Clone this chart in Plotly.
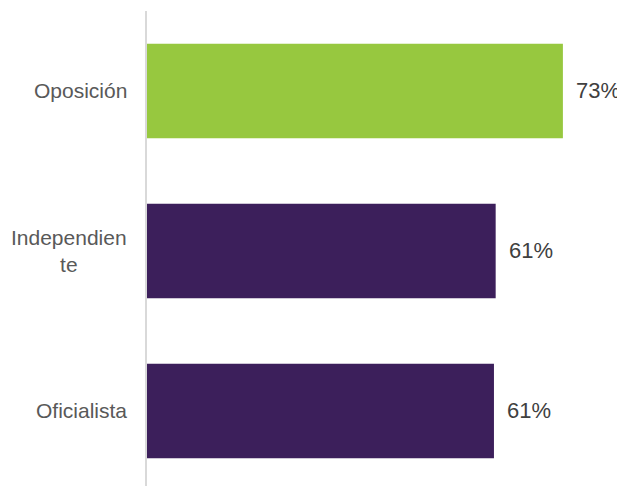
import plotly.graph_objects as go

categories = ["Oposición", "Independiente", "Oficialista"]
cat_labels = ["Oposición", "Independien<br>te", "Oficialista"]
values = [73.0, 61.2, 60.9]
value_labels = ["73%", "61%", "61%"]
colors = ["#97C83F", "#3C1F5B", "#3C1F5B"]

fig = go.Figure()
fig.add_trace(go.Bar(
    y=list(range(len(categories))),
    x=values,
    orientation="h",
    marker=dict(color=colors, line=dict(width=0)),
    width=0.59,
    hoverinfo="skip",
))

annotations = []
for i, (v, lab) in enumerate(zip(values, value_labels)):
    annotations.append(dict(
        x=v, y=i, xref="x", yref="y", text=lab, showarrow=False,
        xanchor="left", yanchor="middle", xshift=11,
        font=dict(family="Liberation Sans, Arial", size=22, color="#404040"),
    ))
for i, lab in enumerate(cat_labels):
    annotations.append(dict(
        x=0, y=i, xref="paper", yref="y", text=lab, showarrow=False,
        xanchor="right", yanchor="middle", xshift=-18, align="center",
        font=dict(family="Liberation Sans, Arial", size=21, color="#595959"),
    ))

fig.update_layout(
    width=617, height=478,
    margin=dict(l=139, r=0, t=3, b=0),
    paper_bgcolor="white", plot_bgcolor="white",
    showlegend=False,
    annotations=annotations,
    xaxis=dict(range=[0, 83.9], visible=False, fixedrange=True),
    yaxis=dict(range=[2.469, -0.5], showticklabels=False, showgrid=False,
               zeroline=False, showline=True, linecolor="#D9D9D9", linewidth=2,
               ticks="", fixedrange=True),
)

fig.write_html("out.html")
